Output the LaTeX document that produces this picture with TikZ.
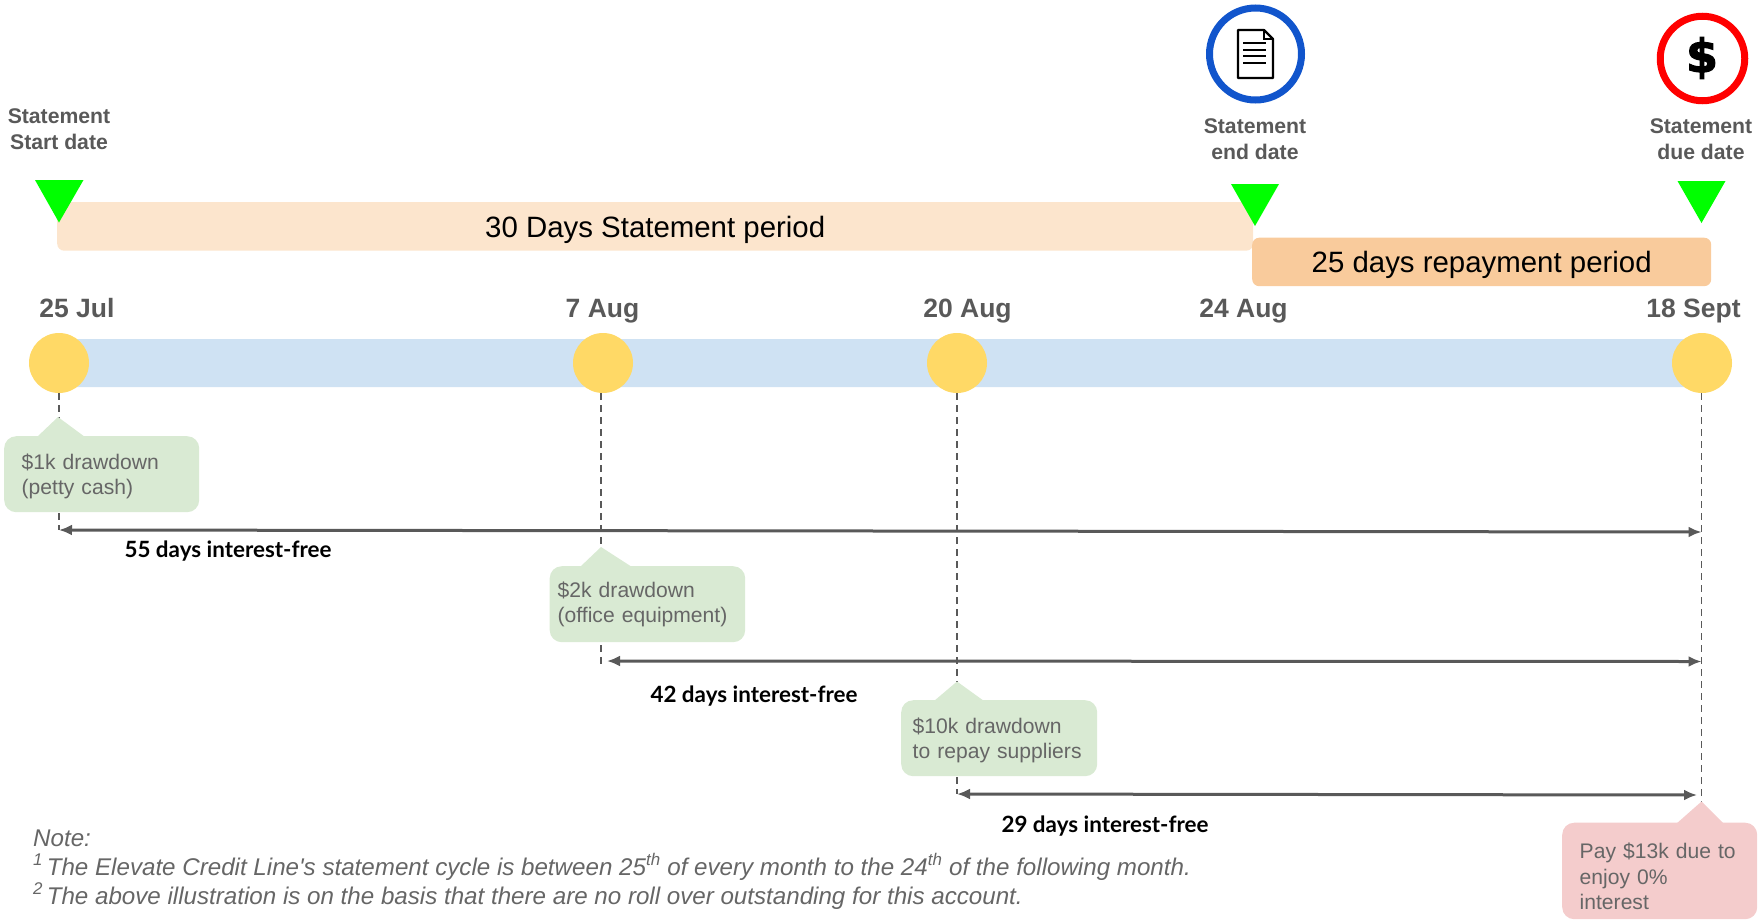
\documentclass[tikz,border=0pt]{standalone}
\usepackage{fontspec}
\setmainfont{Liberation Sans}
\newfontfamily\notefont{Liberation Sans}
\newfontfamily\labfont{Lato}
\newfontfamily\iconfont[FakeBold=2.5]{DejaVu Sans Bold}
\usetikzlibrary{arrows.meta}
\definecolor{peach}{HTML}{FCE5CD}
\definecolor{orangebar}{HTML}{F9CB9C}
\definecolor{bluebar}{HTML}{CFE2F3}
\definecolor{sun}{HTML}{FFD966}
\definecolor{mint}{HTML}{D9EAD3}
\definecolor{rose}{HTML}{F4CCCC}
\definecolor{ink}{HTML}{595959}
\definecolor{soft}{HTML}{666666}
\definecolor{lime}{HTML}{00FF00}
\definecolor{docblue}{HTML}{1155CC}
\newcommand{\fs}[2]{\fontsize{#1}{#2}\selectfont}
\newcommand{\down}[1]{\rule{0pt}{#1pt}}
\tikzset{
  x=1pt,y=-1pt,
  bar/.style={rounded corners=7pt,inner sep=0pt,anchor=north west,text=black,font=\fs{29.4}{34}},
  dot/.style={circle,fill=sun,minimum size=60pt,inner sep=0pt},
  datelab/.style={anchor=base,text=ink,font=\fs{26.5}{30}\bfseries},
  marklab/.style={align=center,text=ink,font=\fs{21.2}{25.8}\bfseries},
  tri/.style={fill=lime},
  callbox/.style={rounded corners=12pt,inner ysep=0pt,inner xsep=0pt,anchor=north west,align=left,text=soft,font=\fs{21.1}{25.5}},
  drop/.style={dashed,dash pattern=on 7pt off 5pt,draw=ink,line width=1.5pt},
  span/.style={draw=ink,line width=3pt,{Latex[length=13pt,width=11pt]}-{Latex[length=13pt,width=11pt]}},
  daylab/.style={anchor=center,text=black,font=\fs{22.4}{25}\labfont\bfseries},
  ring/.style={circle,line width=7pt,inner sep=0pt},
  notetext/.style={anchor=base west,inner sep=0pt,text=soft,font=\fs{24.15}{28}\notefont\itshape},
}
\begin{document}
\begin{tikzpicture}
\useasboundingbox (0,0) rectangle (1762,919);
% bars
\node[bar,fill=bluebar,minimum width=1641pt,minimum height=48pt] (timeline) at (60,339) {};
\node[bar,fill=peach,minimum width=1196pt,minimum height=48.5pt] (statement) at (57,202) {\raisebox{0pt}[22pt][0pt]{30 Days Statement period}};
\node[bar,fill=orangebar,minimum width=459pt,minimum height=48.5pt] (repay) at (1252,237.5) {\raisebox{0pt}[22pt][0pt]{25 days repayment period}};
% triangles
\fill[tri] (35,180) -- (83.5,180) -- (59,222.5) -- cycle;
\fill[tri] (1231,184) -- (1279,184) -- (1255,226) -- cycle;
\fill[tri] (1677.5,181) -- (1725.5,181) -- (1701.5,223) -- cycle;
% mark labels
\node[marklab] (startlab) at (59,129.5) {Statement\\Start date};
\node[marklab] (endlab) at (1255,139.5) {Statement\\end date};
\node[marklab] (duelab) at (1701,139.5) {Statement\\due date};
% icons
\node[ring,draw=docblue,minimum size=92pt] (docring) at (1255.5,54) {};
\node[ring,draw=red,minimum size=84.5pt] (payring) at (1702.5,58.5) {};
\draw[black,line width=2.2pt,line join=round] (1238,30) -- (1264,30) -- (1273,39) -- (1273,78) -- (1238,78) -- cycle;
\draw[black,line width=1.5pt] (1264,30) -- (1264,39) -- (1273,39);
\draw[black,line width=2pt] (1243,43) -- (1266,43) (1243,50) -- (1266,50) (1243,56) -- (1266,56) (1243,62.5) -- (1266,62.5);
\node[inner sep=0pt,text=black,font=\fs{46}{48}\iconfont] (paysign) at (1702,58) {\$};
% dates
\node[datelab] (d1) at (77,317) {25 Jul};
\node[datelab] (d2) at (602.5,317) {7 Aug};
\node[datelab] (d3) at (967.5,317) {20 Aug};
\node[datelab] (d4) at (1243.5,317) {24 Aug};
\node[datelab] (d5) at (1693.5,317) {18 Sept};
% dots
\node[dot] (c1) at (59,363) {};
\node[dot] (c2) at (603,363) {};
\node[dot] (c3) at (957,363) {};
\node[dot] (c4) at (1702,363) {};
% free ends
\coordinate (e1) at (59,530);
\coordinate (e2) at (601,669);
\coordinate (e3) at (957,794);
\coordinate (e4) at (1701.5,802);
\coordinate (a1) at (1701.5,532);
\coordinate (a2s) at (607,661);
\coordinate (a2) at (1701.5,661.5);
\coordinate (a3) at (1697,795);
% drops
\draw[drop] (c1.south) -- (e1);
\draw[drop] (c2.south -| e2) -- (e2);
\draw[drop] (c3.south) -- (e3);
\draw[drop] (c4.south -| e4) -- (e4);
% spans
\draw[span] (e1) -- (a1);
\draw[span] (a2s) -- (a2);
\draw[span] (e3) -- (a3);
% callouts
\fill[mint] (37,437) -- (58,417) -- (85,437) -- cycle;
\node[callbox,fill=mint,minimum width=195pt,minimum height=76pt,text width=195pt] (call1) at (4,436) {\down{19.5}\hspace*{17.5pt}\$1k drawdown\\\hspace*{17.5pt}(petty cash)};
\fill[mint] (580,567) -- (601,547) -- (632,567) -- cycle;
\node[callbox,fill=mint,minimum width=195.5pt,minimum height=76pt,text width=195.5pt] (call2) at (549.5,566) {\hspace*{8pt}\$2k drawdown\\\hspace*{8pt}(office equipment)};
\fill[mint] (934,701) -- (957,681.5) -- (984,701) -- cycle;
\node[callbox,fill=mint,minimum width=196pt,minimum height=76pt,text width=196pt] (call3) at (901,700) {\down{19.5}\hspace*{11.5pt}\$10k drawdown\\\hspace*{11.5pt}to repay suppliers};
\fill[rose] (1676,824) -- (1701.5,801.5) -- (1724,824) -- cycle;
\node[callbox,fill=rose,minimum width=195pt,minimum height=96.5pt,text width=195pt] (call4) at (1562,822.5) {\down{26.5}\hspace*{17.5pt}Pay \$13k due to\\\hspace*{17.5pt}enjoy 0\%\\\hspace*{17.5pt}interest};
% day labels
\node[daylab] (l1) at (228,551) {55 days interest-free};
\node[daylab] (l2) at (754,696.5) {42 days interest-free};
\node[daylab] (l3) at (1105,826) {29 days interest-free};
% notes
\node[notetext] (n0) at (33,846) {Note:};
\node[notetext] (n1) at (33,875) {\textsuperscript{1}\kern-3pt{} The Elevate Credit Line's statement cycle is between 25\textsuperscript{th} of every month to the 24\textsuperscript{th} of the following month.};
\node[notetext] (n2) at (33,904) {\textsuperscript{2}\kern-3pt{} The above illustration is on the basis that there are no roll over outstanding for this account.};
\end{tikzpicture}
\end{document}
